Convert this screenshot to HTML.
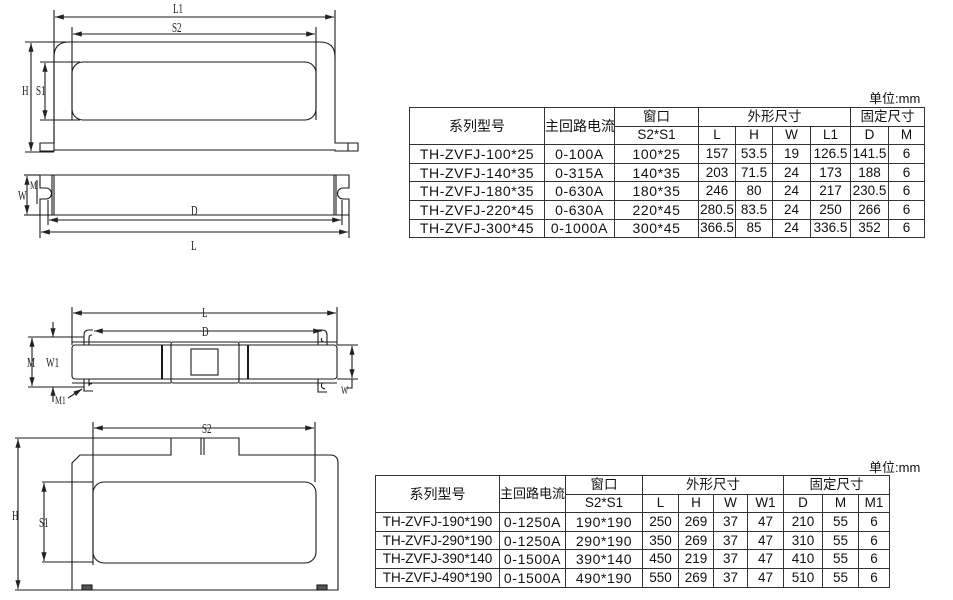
<!DOCTYPE html>
<html><head><meta charset="utf-8"><style>
html,body{margin:0;padding:0;background:#fff;}
body{width:953px;height:600px;position:relative;overflow:hidden;font-family:"Liberation Sans","Noto Sans CJK SC",sans-serif;}
svg{position:absolute;left:0;top:0;}
.t{position:absolute;border-collapse:collapse;font-size:13.5px;color:#111;table-layout:fixed;}
.t tr{height:18.6px;}
.t td{border:1px solid #333;text-align:center;padding:0;line-height:16px;white-space:nowrap;overflow:hidden;}
.t td.m{font-size:14px;letter-spacing:0.6px;}
.u{position:absolute;font-size:13px;color:#111;}
</style></head><body>
<svg width="953" height="600" viewBox="0 0 953 600" font-family="Liberation Serif, serif" font-size="14" fill="none" stroke="#1a1a1a" stroke-width="1.1">
<defs><marker id="a" viewBox="0 0 10 6" refX="10" refY="3" markerWidth="8" markerHeight="5" orient="auto-start-reverse"><path d="M0,0L10,3L0,6z" fill="#222" stroke="none"/></marker></defs>
<line x1="54" y1="10" x2="54" y2="150"/><line x1="335" y1="10" x2="335" y2="60"/>
<line x1="55" y1="17" x2="334" y2="17" marker-start="url(#a)" marker-end="url(#a)"/>
<line x1="72" y1="27" x2="72" y2="120"/><line x1="316" y1="27" x2="316" y2="120"/>
<line x1="73" y1="34" x2="315" y2="34" marker-start="url(#a)" marker-end="url(#a)"/>
<path d="M54,143 V57 Q54,42 69,42 H320 Q335,42 335,57 V143 H358 V151 H335 V150 H54 V151 H40 V143 Z"/>
<line x1="348" y1="143" x2="348" y2="151"/>
<rect x="72" y="62" width="244" height="58" rx="11"/>
<line x1="25" y1="42" x2="72" y2="42"/><line x1="25" y1="152" x2="54" y2="152"/>
<line x1="31" y1="43" x2="31" y2="151" marker-start="url(#a)" marker-end="url(#a)"/>
<line x1="40" y1="62" x2="80" y2="62"/><line x1="40" y1="120" x2="80" y2="120"/>
<line x1="45" y1="63" x2="45" y2="119" marker-start="url(#a)" marker-end="url(#a)"/>
<g fill="#222" stroke="none"><text x="173" y="13" transform="translate(173 0) scale(.65 1) translate(-173 0)">L1</text><text x="172" y="32" transform="translate(172 0) scale(.65 1) translate(-172 0)">S2</text><text x="22" y="95" transform="translate(22 0) scale(.65 1) translate(-22 0)">H</text><text x="36" y="95" transform="translate(36 0) scale(.65 1) translate(-36 0)">S1</text></g>
<path d="M40,175 H349 V188 H343 A5,5 0 0 0 343,199 H349 V215 H40 V199 H46 A5,5 0 0 0 46,188 H40 Z"/>
<line x1="52" y1="175" x2="52" y2="215"/><line x1="54" y1="175" x2="54" y2="215"/>
<line x1="334" y1="175" x2="334" y2="215"/><line x1="336" y1="175" x2="336" y2="215"/>
<line x1="40" y1="215" x2="40" y2="238"/><line x1="349" y1="215" x2="349" y2="238"/>
<line x1="48" y1="200" x2="48" y2="225"/><line x1="342" y1="200" x2="342" y2="225"/>
<line x1="49" y1="220" x2="341" y2="220" marker-start="url(#a)" marker-end="url(#a)"/>
<line x1="41" y1="232" x2="348" y2="232" marker-start="url(#a)" marker-end="url(#a)"/>
<line x1="24" y1="175" x2="40" y2="175"/><line x1="24" y1="215" x2="40" y2="215"/>
<line x1="27" y1="176" x2="27" y2="214" marker-start="url(#a)" marker-end="url(#a)"/>
<line x1="37" y1="180" x2="37" y2="204"/>
<g fill="#222" stroke="none"><text x="18" y="200" transform="translate(18 0) scale(.65 1) translate(-18 0)">W</text><text x="30" y="189" font-size="12" transform="translate(30 0) scale(.65 1) translate(-30 0)">M</text><text x="191" y="215" transform="translate(191 0) scale(.65 1) translate(-191 0)">D</text><text x="191" y="250" transform="translate(191 0) scale(.65 1) translate(-191 0)">L</text></g>
<line x1="72" y1="307" x2="72" y2="345"/><line x1="337" y1="307" x2="337" y2="345"/>
<line x1="73" y1="313" x2="336" y2="313" marker-start="url(#a)" marker-end="url(#a)"/>
<line x1="94" y1="331" x2="322" y2="331" marker-start="url(#a)" marker-end="url(#a)"/>
<rect x="72" y="345" width="265" height="34" rx="3"/>
<line x1="72" y1="342" x2="171" y2="342"/><line x1="72" y1="383" x2="171" y2="383"/>
<line x1="239" y1="342" x2="337" y2="342"/><line x1="239" y1="383" x2="337" y2="383"/>
<rect x="171" y="342" width="68" height="41" rx="2"/>
<rect x="191" y="349" width="27" height="26"/>
<line x1="162" y1="345" x2="162" y2="379" stroke-width="2"/><line x1="248" y1="345" x2="248" y2="379" stroke-width="2"/>
<path d="M84,345 V335 Q84,330 89,330 H93 M89,345 V338 Q89,335 92,335"/>
<path d="M84,379 V391 H93 M89,379 V386 Q89,383 92,384"/>
<path d="M318,345 V330 H322 Q327,330 327,335 V345 M322,338 Q320,341 324,342"/>
<path d="M318,379 V392 H327 M322,383 Q320,388 325,389"/>
<line x1="28" y1="337" x2="84" y2="337"/><line x1="28" y1="387" x2="84" y2="387"/>
<line x1="32" y1="338" x2="32" y2="386" marker-start="url(#a)" marker-end="url(#a)"/>
<line x1="53" y1="322" x2="53" y2="337" marker-end="url(#a)"/><line x1="53" y1="402" x2="53" y2="387" marker-end="url(#a)"/>
<line x1="337" y1="345" x2="358" y2="345"/><line x1="337" y1="379" x2="358" y2="379"/>
<line x1="352" y1="346" x2="352" y2="378" marker-start="url(#a)" marker-end="url(#a)"/>
<path d="M352,379 V388 H346"/>
<line x1="68" y1="398" x2="82" y2="389" marker-end="url(#a)"/>
<g fill="#222" stroke="none"><text x="202" y="317" transform="translate(202 0) scale(.65 1) translate(-202 0)">L</text><text x="202" y="336" transform="translate(202 0) scale(.65 1) translate(-202 0)">D</text><text x="27" y="367" transform="translate(27 0) scale(.65 1) translate(-27 0)">M</text><text x="46" y="367" transform="translate(46 0) scale(.65 1) translate(-46 0)">W1</text><text x="55" y="404" font-size="12" transform="translate(55 0) scale(.65 1) translate(-55 0)">M1</text><text x="341" y="394" font-size="12" transform="translate(341 0) scale(.65 1) translate(-341 0)">W</text></g>
<line x1="93" y1="422" x2="93" y2="565"/><line x1="315" y1="422" x2="315" y2="482"/>
<line x1="94" y1="428" x2="314" y2="428" marker-start="url(#a)" marker-end="url(#a)"/>
<path d="M72,590 V463 L80,455 H171 V438 H239 V455 H330 Q338,455 338,463 V590 Z"/>
<line x1="201" y1="438" x2="201" y2="455"/><line x1="204" y1="438" x2="204" y2="455"/>
<line x1="15" y1="438" x2="171" y2="438"/><line x1="15" y1="590" x2="72" y2="590"/>
<line x1="18" y1="439" x2="18" y2="589" marker-start="url(#a)" marker-end="url(#a)"/>
<rect x="93" y="482" width="223" height="81" rx="11"/>
<line x1="42" y1="482" x2="93" y2="482"/><line x1="42" y1="562" x2="93" y2="562"/>
<line x1="44" y1="483" x2="44" y2="561" marker-start="url(#a)" marker-end="url(#a)"/>
<rect x="82" y="585" width="10" height="5" fill="#555"/><rect x="317" y="585" width="10" height="5" fill="#555"/>
<g fill="#222" stroke="none"><text x="202" y="433" transform="translate(202 0) scale(.65 1) translate(-202 0)">S2</text><text x="12" y="520" transform="translate(12 0) scale(.65 1) translate(-12 0)">H</text><text x="39" y="527" transform="translate(39 0) scale(.65 1) translate(-39 0)">S1</text></g>
</svg>

<div class="u" style="left:869px;top:88px;">单位:mm</div>
<table class="t" style="left:409px;top:107px;width:515px;">
<colgroup><col style="width:135px"><col style="width:70px"><col style="width:84px"><col style="width:37px"><col style="width:37px"><col style="width:38px"><col style="width:40px"><col style="width:38px"><col style="width:36px"></colgroup>
<tr><td rowspan="2" style="font-size:14px">系列型号</td><td rowspan="2" style="font-size:14px">主回路电流</td><td>窗口</td><td colspan="4">外形尺寸</td><td colspan="2">固定尺寸</td></tr>
<tr><td>S2*S1</td><td>L</td><td>H</td><td>W</td><td>L1</td><td>D</td><td>M</td></tr>
<tr><td class="m">TH-ZVFJ-100*25</td><td class="m">0-100A</td><td class="m">100*25</td><td>157</td><td>53.5</td><td>19</td><td>126.5</td><td>141.5</td><td>6</td></tr>
<tr><td class="m">TH-ZVFJ-140*35</td><td class="m">0-315A</td><td class="m">140*35</td><td>203</td><td>71.5</td><td>24</td><td>173</td><td>188</td><td>6</td></tr>
<tr><td class="m">TH-ZVFJ-180*35</td><td class="m">0-630A</td><td class="m">180*35</td><td>246</td><td>80</td><td>24</td><td>217</td><td>230.5</td><td>6</td></tr>
<tr><td class="m">TH-ZVFJ-220*45</td><td class="m">0-630A</td><td class="m">220*45</td><td>280.5</td><td>83.5</td><td>24</td><td>250</td><td>266</td><td>6</td></tr>
<tr><td class="m">TH-ZVFJ-300*45</td><td class="m">0-1000A</td><td class="m">300*45</td><td>366.5</td><td>85</td><td>24</td><td>336.5</td><td>352</td><td>6</td></tr>
</table>

<div class="u" style="left:869px;top:457px;">单位:mm</div>
<table class="t" style="left:375px;top:475px;width:514px;">
<colgroup><col style="width:124px"><col style="width:66px"><col style="width:77px"><col style="width:36px"><col style="width:35px"><col style="width:34px"><col style="width:36px"><col style="width:39px"><col style="width:36px"><col style="width:31px"></colgroup>
<tr><td rowspan="2" style="font-size:14px">系列型号</td><td rowspan="2" style="font-size:13px">主回路电流</td><td>窗口</td><td colspan="4">外形尺寸</td><td colspan="3">固定尺寸</td></tr>
<tr><td>S2*S1</td><td>L</td><td>H</td><td>W</td><td>W1</td><td>D</td><td>M</td><td>M1</td></tr>
<tr><td class="m" style="letter-spacing:0;font-size:13.5px">TH-ZVFJ-190*190</td><td class="m">0-1250A</td><td class="m">190*190</td><td>250</td><td>269</td><td>37</td><td>47</td><td>210</td><td>55</td><td>6</td></tr>
<tr><td class="m" style="letter-spacing:0;font-size:13.5px">TH-ZVFJ-290*190</td><td class="m">0-1250A</td><td class="m">290*190</td><td>350</td><td>269</td><td>37</td><td>47</td><td>310</td><td>55</td><td>6</td></tr>
<tr><td class="m" style="letter-spacing:0;font-size:13.5px">TH-ZVFJ-390*140</td><td class="m">0-1500A</td><td class="m">390*140</td><td>450</td><td>219</td><td>37</td><td>47</td><td>410</td><td>55</td><td>6</td></tr>
<tr><td class="m" style="letter-spacing:0;font-size:13.5px">TH-ZVFJ-490*190</td><td class="m">0-1500A</td><td class="m">490*190</td><td>550</td><td>269</td><td>37</td><td>47</td><td>510</td><td>55</td><td>6</td></tr>
</table>
</body></html>
